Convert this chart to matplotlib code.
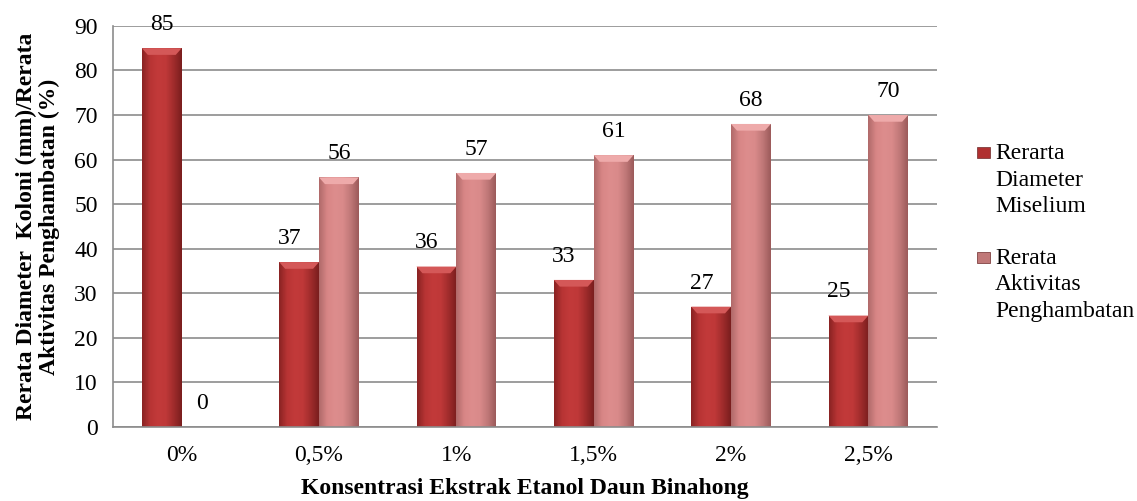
import numpy as np
import matplotlib
matplotlib.use("Agg")
import matplotlib.pyplot as plt
from matplotlib.colors import LinearSegmentedColormap
from matplotlib.patches import Polygon, Rectangle

# data
categories = ["0%", "0,5%", "1%", "1,5%", "2%", "2,5%"]
diameter = [85, 37, 36, 33, 27, 25]
inhibition = [0, 56, 57, 61, 68, 70]
series_names = [["Rerarta", "Diameter", "Miselium"],
                ["Rerata", "Aktivitas", "Penghambatan"]]

plt.rcParams['font.family'] = ['Liberation Serif', 'DejaVu Serif']
FS = 17

red_cmap = LinearSegmentedColormap.from_list(
    "red", ["#8a2323", "#b83434", "#c23a3a", "#bf3838", "#a02c2c", "#7a1e1e"])
pink_cmap = LinearSegmentedColormap.from_list(
    "pink", ["#b06a6a", "#d88686", "#dd8d8d", "#d98a8a", "#c07878", "#9c5b5b"])
grad = np.linspace(0, 1, 64).reshape(1, -1)


def shade_bars(ax, bars, cmap, top_color):
    # fake the excel bevelled cylinder look
    for r in bars:
        x, y = r.get_x(), r.get_y()
        w, h = r.get_width(), r.get_height()
        r.set_facecolor("none")
        r.set_edgecolor("none")
        if h <= 0:
            continue
        im = ax.imshow(grad, cmap=cmap, aspect="auto", extent=[x, x + w, y, y + h],
                       zorder=2, interpolation="bilinear")
        clip = Rectangle((x, y), w, h, transform=ax.transData)
        im.set_clip_path(clip)
        dx = w * 0.15
        dy = 1.5
        ax.add_patch(Polygon([[x, y + h], [x + w, y + h], [x + w - dx, y + h - dy],
                              [x + dx, y + h - dy]], closed=True,
                             facecolor=top_color, edgecolor="none", zorder=3))


fig = plt.figure(figsize=(11.37, 5.01), dpi=100)
ax = fig.add_axes([0.0994, 0.1477, 0.7247, 0.8006])

x = np.arange(len(categories))
bw = 0.29
b1 = ax.bar(x - bw / 2, diameter, bw, zorder=2)
b2 = ax.bar(x + bw / 2, inhibition, bw, zorder=2)
shade_bars(ax, b1, red_cmap, "#d45858")
shade_bars(ax, b2, pink_cmap, "#eeaaaa")

for i in range(len(categories)):
    off = -7 if inhibition[i] > 0 else 0
    ax.annotate(str(diameter[i]), (x[i] - bw / 2, diameter[i]), xytext=(off, 17),
                textcoords="offset points", ha="center", va="center", fontsize=FS)
    ax.annotate(str(inhibition[i]), (x[i] + bw / 2, inhibition[i]), xytext=(0, 17),
                textcoords="offset points", ha="center", va="center", fontsize=FS)

ax.set_xlim(-0.5, len(categories) - 0.5)
ax.set_ylim(0, 90)
ax.set_yticks(range(0, 91, 10))
ax.set_xticks(x)
ax.set_xticklabels(categories)
ax.tick_params(axis="both", length=0, labelsize=FS)
ax.tick_params(axis="y", pad=11)
ax.tick_params(axis="x", pad=13)
ax.yaxis.grid(True, color="#8c8c8c", linewidth=1.2, zorder=0)
ax.set_axisbelow(True)
for s in ["top", "right"]:
    ax.spines[s].set_visible(False)
for s in ["left", "bottom"]:
    ax.spines[s].set_color("#8c8c8c")
    ax.spines[s].set_linewidth(1.2)

ax.set_ylabel("Rerata Diameter  Koloni (mm)/Rerata\nAktivitas Penghambatan (%)",
              fontsize=FS, fontweight="bold", linespacing=1.15)
ax.yaxis.set_label_coords(-0.064, 0.5)
ax.set_xlabel("Konsentrasi Ekstrak Etanol Daun Binahong", fontsize=FS,
              fontweight="bold")
ax.xaxis.set_label_coords(0.5, -0.128)

# legend drawn by hand so the marker sits on the first text line
leg_colors = ["#b03030", "#c07878"]
leg_top = [153, 258]
line_gap = 27
for names, col, top in zip(series_names, leg_colors, leg_top):
    fig.patches.append(Rectangle((977 / 1137, 1 - (top + 5) / 501), 13 / 1137, 11 / 501,
                                 transform=fig.transFigure, facecolor=col,
                                 edgecolor="#6e2a2a", linewidth=0.5))
    for k, nm in enumerate(names):
        fig.text(995 / 1137, 1 - (top + k * line_gap) / 501, nm, fontsize=FS,
                 va="center", ha="left")

fig.savefig("out.png", dpi=100)
